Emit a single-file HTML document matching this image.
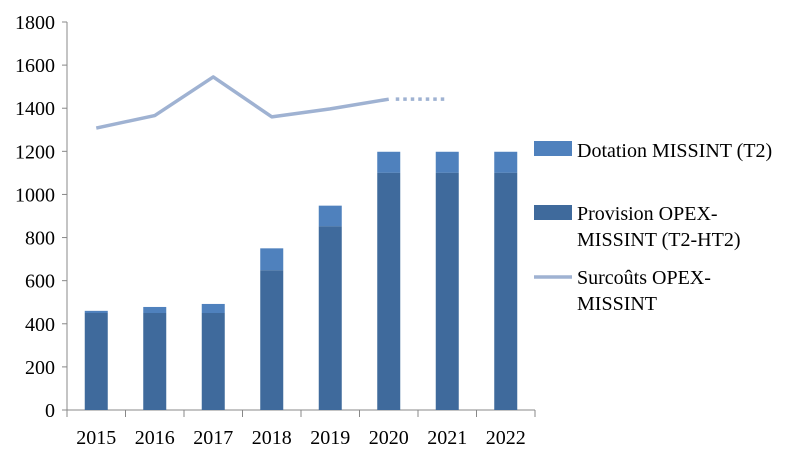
<!DOCTYPE html>
<html><head><meta charset="utf-8"><style>
body{margin:0;background:#fff;}
svg{display:block;font-family:"Liberation Serif",serif;}
</style></head><body>
<svg id="c" width="812" height="452">
<g id="legend">
 <rect x="534" y="141" width="38" height="15" fill="#4f81bd"/>
 <text x="577" y="157" font-size="20" fill="#000">Dotation MISSINT (T2)</text>
 <rect x="534" y="205" width="38" height="15" fill="#3f6a9c"/>
 <text x="577" y="220" font-size="20" fill="#000"><tspan x="577">Provision OPEX-</tspan><tspan x="577" dy="26">MISSINT (T2-HT2)</tspan></text>
 <line x1="534" y1="277" x2="572" y2="277" stroke="#9fb2d2" stroke-width="3.5"/>
 <text x="577" y="284" font-size="20" fill="#000"><tspan x="577">Surcoûts OPEX-</tspan><tspan x="577" dy="26">MISSINT</tspan></text>
</g>
</svg>
<script>
const years=["2015","2016","2017","2018","2019","2020","2021","2022"];
const provision=[450,450,450,648,852,1100,1100,1100];
const dotationTotal=[460,478,492,750,948,1198,1198,1198];
const surcouts=[1308,1366,1545,1360,1397,1442];
const surcoutsProjected=[1442,1442];
const yTicks=[0,200,400,600,800,1000,1200,1400,1600,1800];
const NS="http://www.w3.org/2000/svg";
const svg=document.getElementById('c');
const x0=67,x1=535,y0=410,yTop=22,yMax=1800;
const band=(x1-x0)/years.length;
const xc=i=>x0+band*(i+0.5);
const ys=v=>y0-(v/yMax)*(y0-yTop);
function mk(t,a){const e=document.createElementNS(NS,t);for(const k in a)e.setAttribute(k,a[k]);svg.appendChild(e);return e;}
let e;
e=mk('line',{x1:x0,y1:yTop,x2:x0,y2:y0,stroke:'#888'});


e=mk('line',{x1:x0,y1:y0,x2:x1,y2:y0,stroke:'#888'});


yTicks.forEach(v=>{
 e=mk('line',{x1:x0-5,y1:ys(v),x2:x0,y2:ys(v),stroke:'#888'});
 
 
 e=mk('text',{x:x0-12,y:ys(v)+7,'font-size':20,'text-anchor':'end'});
 e.textContent=v;
 
 
});
for(let i=0;i<=years.length;i++){
 e=mk('line',{x1:x0+band*i,y1:y0,x2:x0+band*i,y2:y0+7,stroke:'#888'});
 
 
}
const bw=23;
years.forEach((yr,i)=>{
 e=mk('rect',{x:xc(i)-bw/2,y:ys(dotationTotal[i]),width:bw,height:ys(provision[i])-ys(dotationTotal[i]),fill:'#4f81bd'});
 
 
 e=mk('rect',{x:xc(i)-bw/2,y:ys(provision[i]),width:bw,height:y0-ys(provision[i]),fill:'#3f6a9c'});
 
 
 e=mk('text',{x:xc(i),y:y0+34,'font-size':20,'text-anchor':'middle'});
 e.textContent=yr;
 
 
});
e=mk('polyline',{points:surcouts.map((v,i)=>xc(i)+','+ys(v)).join(' '),fill:'none',stroke:'#9fb2d2','stroke-width':3.5,'stroke-linejoin':'round'});


const s=surcouts.length-1;
e=mk('polyline',{points:surcoutsProjected.map((v,i)=>(xc(s+i)+(i==0?7:0))+','+ys(v)).join(' '),fill:'none',stroke:'#9fb2d2','stroke-width':3.5,'stroke-dasharray':'3.5 4'});


</script>
</body></html>
